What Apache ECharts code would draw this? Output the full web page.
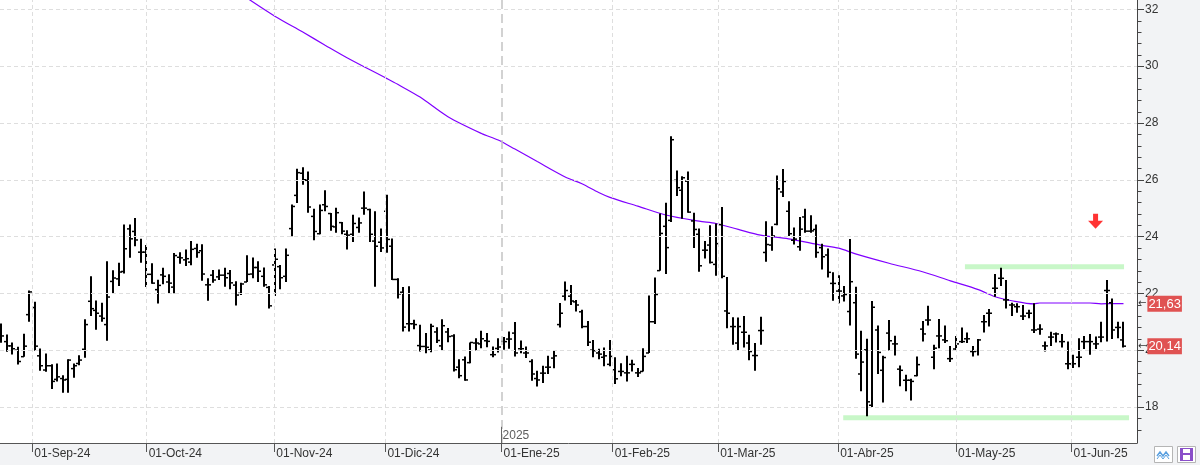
<!DOCTYPE html>
<html>
<head>
<meta charset="utf-8">
<script src="https://cdn.jsdelivr.net/npm/echarts@6/dist/echarts.min.js"></script>
<style>
html,body{margin:0;padding:0;background:#f2f3f5;}
#c{width:1200px;height:465px;}
</style>
</head>
<body>
<div id="c"></div>
<script>
// ---- DATA (bar index 0 = first trading day shown, late Aug 2024) ----
const O = [20.6,20.3,20.15,20.0,19.77,21.25,21.5,19.8,19.3,19.45,18.97,19.0,18.97,19.35,19.53,20.03,21.72,21.4,21.2,20.9,
22.42,22.51,22.77,24.27,24.18,23.45,23.45,22.67,22.13,22.65,22.4,22.22,23.27,23.18,23.1,23.58,23.5,22.3,22.64,22.58,
22.64,22.7,22.29,22.0,22.4,22.68,22.91,22.6,22.21,23.0,22.94,22.6,24.28,25.45,26.23,25.98,24.71,24.1,25.12,24.81,
24.34,24.49,24.08,24.08,24.32,25.0,24.95,23.84,23.8,24.89,23.66,22.49,22.04,20.93,20.93,20.16,20.13,20.01,20.64,20.15,
20.64,20.5,19.4,19.66,19.56,20.25,20.22,20.33,19.84,20.06,20.31,20.39,20.6,20.05,19.9,19.6,19.0,19.19,19.4,19.72,
20.9,21.9,21.9,21.7,21.35,20.83,20.0,19.9,19.75,19.5,19.31,19.25,19.2,19.5,19.2,19.25,19.9,21.0,22.8,24.36,
24.57,25.98,25.63,25.95,24.55,24.08,23.52,23.7,23.02,24.42,21.38,20.83,20.25,20.63,20.25,19.81,20.69,23.44,23.7,24.43,
25.57,24.89,23.87,23.64,24.69,24.19,24.25,23.61,23.35,22.35,22.08,21.91,21.36,21.67,19.16,20.01,18.06,20.71,19.29,20.6,
20.22,19.33,18.94,18.94,19.1,20.74,21.06,19.75,20.5,20.36,19.7,20.04,20.3,20.4,19.95,19.98,21.0,21.3,22.18,22.53,
21.77,21.59,21.53,21.2,21.3,20.71,20.74,20.15,20.46,20.57,20.3,19.52,19.52,19.75,20.3,20.3,20.22,20.46,22.1,21.67,
20.8,20.36];
const H = [20.94,20.55,20.27,20.12,20.58,22.1,21.7,20.06,19.88,19.5,19.53,19.12,19.68,19.53,19.82,21.09,22.6,21.75,21.67,23.13,
22.81,23.08,24.42,24.42,24.65,23.92,23.7,23.06,22.48,22.9,22.67,23.42,23.45,23.54,23.84,23.75,23.73,22.53,22.82,22.84,
22.9,22.82,22.43,22.37,23.34,23.26,23.13,22.91,22.26,23.58,23.0,23.58,25.13,26.39,26.44,26.29,24.98,25.13,25.63,24.83,
25.01,24.51,24.22,24.77,24.67,25.59,24.98,24.89,24.28,25.47,23.93,22.53,22.22,22.25,21.07,20.89,20.6,20.93,20.81,21.09,
20.78,20.56,19.68,19.78,20.27,20.42,20.68,20.6,20.13,20.42,20.46,20.66,20.99,20.34,20.13,19.68,19.27,19.45,19.8,19.98,
21.66,22.42,22.29,21.77,21.42,21.03,20.36,20.05,20.09,20.36,19.75,19.54,19.8,19.66,19.37,20.07,21.92,22.56,24.81,25.19,
27.53,26.33,26.12,26.29,24.84,24.28,23.84,24.4,24.46,25.04,22.58,21.16,21.15,21.2,20.54,20.25,21.18,24.54,24.36,26.15,
26.38,25.24,24.32,24.69,24.98,24.75,24.42,23.75,23.58,22.74,22.64,22.26,23.91,22.23,20.68,20.4,21.73,20.87,19.8,21.06,
20.51,19.46,19.13,18.99,19.78,21.03,21.56,20.19,21.1,20.87,20.15,20.5,20.8,20.62,20.15,20.39,21.24,21.45,22.68,22.9,
22.47,21.67,21.65,21.59,21.42,21.65,20.91,20.3,20.65,20.62,20.57,20.3,19.84,20.42,20.5,20.57,20.48,21.0,22.47,21.82,
21.0,21.0];
const L = [20.26,19.94,19.85,19.49,19.77,21.0,19.98,19.27,19.24,18.63,18.9,18.5,18.5,19.03,19.47,19.73,21.2,20.72,21.0,20.33,
22.0,22.26,22.7,23.25,23.66,23.08,22.22,22.34,21.64,22.32,22.0,22.0,23.04,22.96,22.99,23.25,22.44,21.74,22.37,22.47,
22.23,22.14,21.57,21.94,22.4,22.53,22.4,22.23,21.47,21.91,22.14,22.4,24.01,25.18,25.82,24.84,23.87,24.08,24.89,24.2,
24.13,24.08,23.54,23.81,24.13,24.77,23.81,22.23,23.46,23.43,22.47,21.82,20.66,20.66,20.74,19.95,19.89,19.93,20.25,19.99,
20.28,19.25,19.01,18.92,19.54,19.99,20.07,20.1,19.75,19.92,20.01,20.05,19.78,19.89,19.72,18.92,18.72,18.84,19.16,19.36,
20.8,21.75,21.59,21.36,20.77,20.15,19.75,19.68,19.43,19.43,18.81,19.08,18.9,19.25,19.05,19.25,19.9,20.92,22.8,22.68,
24.51,25.43,24.63,24.84,23.6,22.76,23.23,23.05,22.62,22.53,20.77,20.19,19.99,20.09,19.64,19.27,20.19,23.11,23.5,24.4,
25.39,24.02,23.72,23.5,24.13,24.13,23.25,22.84,22.56,21.74,21.65,21.71,20.87,19.7,18.55,17.67,18.0,19.16,18.16,19.99,
19.81,18.73,18.55,18.23,19.08,20.3,20.87,19.33,20.07,20.25,19.58,19.98,20.25,20.25,19.78,19.81,20.62,20.83,21.88,22.26,
21.47,21.2,21.32,21.06,21.12,20.6,20.54,19.95,20.15,20.27,20.09,19.33,19.37,19.4,20.04,19.84,20.04,20.28,20.3,20.39,
20.42,20.09];
const C = [20.5,20.15,20.05,19.6,20.14,22.05,20.14,19.45,19.45,18.9,19.06,18.95,19.65,19.45,19.65,20.9,21.46,21.3,21.12,21.87,
22.54,22.75,23.57,23.92,23.88,23.45,22.67,22.36,22.28,22.6,22.36,23.33,23.25,23.22,23.55,23.44,22.68,22.3,22.47,22.64,
22.55,22.37,21.94,22.33,22.67,22.91,22.78,22.3,21.56,23.2,22.55,23.34,25.06,26.25,26.0,25.04,24.18,24.92,25.06,24.36,
24.84,24.19,24.05,24.46,24.48,25.0,24.08,23.66,23.6,23.9,22.49,21.98,20.81,20.93,20.9,20.13,20.1,20.84,20.34,20.86,
20.48,19.31,19.1,18.95,20.27,20.25,20.4,20.31,19.84,20.11,20.3,20.39,19.9,20.05,19.9,19.16,18.95,19.19,19.4,19.8,
21.3,22.1,21.73,21.59,20.83,20.28,19.98,19.86,19.8,19.78,18.99,19.25,19.2,19.5,19.2,19.78,21.0,21.96,24.11,23.61,
27.41,25.72,26.07,24.86,24.25,22.97,23.52,23.09,23.75,22.6,21.3,20.83,20.83,20.63,19.95,19.81,20.69,23.72,24.02,25.68,
25.94,24.1,23.91,24.26,24.19,24.2,23.44,23.29,22.74,22.35,22.08,21.96,22.41,19.86,19.58,18.18,21.51,19.92,19.74,20.33,
20.22,19.29,18.94,18.9,19.49,20.57,21.06,20.07,20.5,20.33,19.7,20.22,20.3,20.4,19.95,20.36,21.0,21.3,22.18,22.53,
21.77,21.59,21.53,21.2,21.3,20.71,20.74,20.15,20.46,20.57,20.3,19.52,19.52,19.75,20.3,20.3,20.22,20.46,22.1,20.71,
20.8,20.14];

// long moving average (bar index / value)
const maIdx = [44,49,54,58,62,69,71,75,80,86,89,92,96,101,104,107,109,114,119,125,128,132,136,141,147,150,153,159,165,170,175,178,181,185,186,195,197,199,201];
const maVal = [32.40,31.76,31.20,30.74,30.29,29.57,29.36,28.91,28.22,27.63,27.40,27.08,26.64,26.10,25.86,25.55,25.38,25.07,24.76,24.54,24.46,24.25,24.05,23.92,23.69,23.59,23.39,23.06,22.76,22.44,22.13,21.88,21.74,21.63,21.66,21.66,21.63,21.64,21.64];

// month ticks (position in bar-index units) and labels
const monthPos = [5.55,26.03,48.9,68.8,89.6,109.5,128.4,149.9,171.0,191.7];
const monthLabels = ['01-Sep-24','01-Oct-24','01-Nov-24','01-Dic-24','01-Ene-25','01-Feb-25','01-Mar-25','01-Abr-25','01-May-25','01-Jun-25'];
const yearPos = 89.6, yearLabel = '2025';

// y axis ticks
const yTicks = [18,20,22,24,26,28,30,32];
const yMinorTicks = [17.2,17.6,18.4,18.8,19.2,19.6,20.4,20.8,21.2,21.6,22.4,22.8,23.2,23.6,24.4,24.8,25.2,25.6,26.4,26.8,27.2,27.6,28.4,28.8,29.2,29.6,30.4,30.8,31.2,31.6];

// annotations
const supportLevel = 17.62, supportFrom = 150.8, supportTo = 202.0;
const resistLevel = 22.94, resistFrom = 172.6, resistTo = 201.1;
const arrowIdx = 196.0, arrowVal = 24.54;
const lastMA = 21.63, lastClose = 20.14;

// ---- CHART ----
const yMin = 16.73, yMax = 32.33, xMin = -0.233, xMax = 203.42;
const ohlcData = O.map((o, i) => [i, o, H[i], L[i], C[i]]);
const maData = maIdx.map((d, i) => [d, maVal[i]]);
const fmt = v => v.toFixed(2).replace('.', ',');

const gridH = yTicks.map(v => ({yAxis: v}));
const gridV = monthPos.map((p, i) => i === 4
  ? {xAxis: p, lineStyle: {color: '#c4c4c4', type: [9, 5], width: 1.5}}
  : {xAxis: p});

const chart = echarts.init(document.getElementById('c'), null, {renderer: 'canvas'});
chart.setOption({
  animation: false,
  backgroundColor: '#f2f3f5',
  textStyle: {fontFamily: 'Liberation Sans, Arial, sans-serif'},
  grid: {left: 0, right: 63, top: 0, bottom: 22, show: true, backgroundColor: '#ffffff', borderWidth: 0},
  xAxis: {
    type: 'value', min: xMin, max: xMax,
    axisLine: {show: true, onZero: false, lineStyle: {color: '#555', width: 1}},
    axisTick: {show: true, customValues: monthPos, length: 9, lineStyle: {color: '#555'}},
    axisLabel: {customValues: monthPos, formatter: v => monthLabels[monthPos.indexOf(v)] || '',
      align: 'left', margin: 5, padding: [0, 0, 0, 2], color: '#333', fontSize: 12, hideOverlap: false},
    splitLine: {show: false}
  },
  yAxis: {
    type: 'value', position: 'right', min: yMin, max: yMax,
    axisLine: {show: true, onZero: false, lineStyle: {color: '#444'}},
    axisTick: {show: true, customValues: yTicks, length: 7, lineStyle: {color: '#444'}},
    axisLabel: {customValues: yTicks, margin: 8, color: '#333', fontSize: 12},
    splitLine: {show: false}
  },
  series: [
    { // grid lines
      type: 'line', data: [[-50, -50]], symbol: 'none', silent: true, z: 1,
      markLine: {silent: true, symbol: 'none', label: {show: false},
        lineStyle: {color: '#dedede', type: [4, 3], width: 1},
        data: gridH.concat(gridV).concat([[{coord: [yearPos, 17.3], lineStyle: {color: '#666', type: 'solid', width: 1}}, {coord: [yearPos, yMin]}]])}
    },
    { // minor y ticks (outside the plot, on the right axis)
      type: 'custom', silent: true, clip: false, z: 5,
      data: yMinorTicks.map(v => [xMax, v]),
      renderItem: function (params, api) {
        const p = api.coord([api.value(0), api.value(1)]);
        const y = Math.round(p[1]) + 0.5;
        return {type: 'line', shape: {x1: p[0], y1: y, x2: p[0] + 4.5, y2: y}, style: {stroke: '#444', lineWidth: 1}};
      }
    },
    { // support / resistance
      type: 'line', data: [[supportFrom, supportLevel], [supportTo, supportLevel]], symbol: 'none', silent: true, z: 2,
      lineStyle: {color: '#c8f7c8', width: 5}
    },
    {
      type: 'line', data: [[resistFrom, resistLevel], [resistTo, resistLevel]], symbol: 'none', silent: true, z: 2,
      lineStyle: {color: '#c8f7c8', width: 5}
    },
    { // moving average
      type: 'line', data: maData, symbol: 'none', clip: true, z: 3, silent: true, smooth: 0.3,
      lineStyle: {color: '#8000ff', width: 1.2}
    },
    { // OHLC bars
      type: 'custom', z: 4, silent: true, clip: true,
      data: ohlcData,
      encode: {x: 0, y: [1, 2, 3, 4]},
      renderItem: function (params, api) {
        const i = api.value(0);
        const pO = api.coord([i, api.value(1)]);
        const pH = api.coord([i, api.value(2)]);
        const pL = api.coord([i, api.value(3)]);
        const pC = api.coord([i, api.value(4)]);
        const x = Math.round(pH[0]);
        return {type: 'group', children: [
          {type: 'line', shape: {x1: x, y1: pH[1], x2: x, y2: pL[1]}, style: {stroke: '#000', lineWidth: 2}},
          {type: 'line', shape: {x1: x - 3, y1: pO[1], x2: x, y2: pO[1]}, style: {stroke: '#000', lineWidth: 1.5}},
          {type: 'line', shape: {x1: x, y1: pC[1], x2: x + 3, y2: pC[1]}, style: {stroke: '#000', lineWidth: 1.5}}
        ]};
      }
    },
    { // red arrow
      type: 'scatter', data: [[arrowIdx, arrowVal]], silent: true, z: 5,
      symbol: 'path://M5,0 L10,0 L10,7 L15,7 L7.5,15 L0,7 L5,7 Z', symbolSize: [15, 15],
      itemStyle: {color: '#ff0000'}
    },
    { // year label
      type: 'scatter', data: [[yearPos, 16.99]], symbolSize: 0, silent: true, z: 5,
      label: {show: true, position: 'right', distance: 1, formatter: yearLabel, color: '#333', fontSize: 12}
    },
    { // last value labels
      type: 'line', data: [[-50, -50]], symbol: 'none', silent: true, z: 10,
      markLine: {silent: true, symbol: 'none', lineStyle: {color: 'rgba(0,0,0,0)', width: 0},
        label: {show: true, position: 'end', distance: 1,
          formatter: p => '{a|←}{b|' + fmt(p.value) + '}',
          rich: {
            a: {color: '#333', fontSize: 10, fontFamily: 'DejaVu Sans', padding: [0, 1, 0, 0]},
            b: {color: '#fff', backgroundColor: '#e05252', fontSize: 13, padding: [2, 1, 1, 1]}
          }},
        data: [{yAxis: lastMA}, {yAxis: lastClose}]}
    }
  ],
  graphic: [
    {type: 'rect', shape: {x: 1154.5, y: 446.5, width: 18, height: 16}, style: {fill: '#fff', stroke: '#b5b5b5'}},
    {type: 'polyline', shape: {points: [[1157, 456], [1160, 452], [1163, 456], [1166, 452], [1169, 456]]}, style: {stroke: '#5aa0e0', lineWidth: 1.5, fill: null}},
    {type: 'polyline', shape: {points: [[1157, 459], [1160, 455], [1163, 459], [1166, 455], [1169, 459]]}, style: {stroke: '#5aa0e0', lineWidth: 1, fill: null}},
    {type: 'rect', shape: {x: 1177.5, y: 446.5, width: 18, height: 16}, style: {fill: '#fff', stroke: '#b5b5b5'}},
    {type: 'rect', shape: {x: 1180, y: 448, width: 13, height: 13}, style: {fill: '#8a4fc9'}},
    {type: 'rect', shape: {x: 1183, y: 449, width: 7, height: 4}, style: {fill: '#fff'}},
    {type: 'rect', shape: {x: 1183, y: 455, width: 7, height: 5}, style: {fill: '#fff'}}
  ]
});
</script>
</body>
</html>
